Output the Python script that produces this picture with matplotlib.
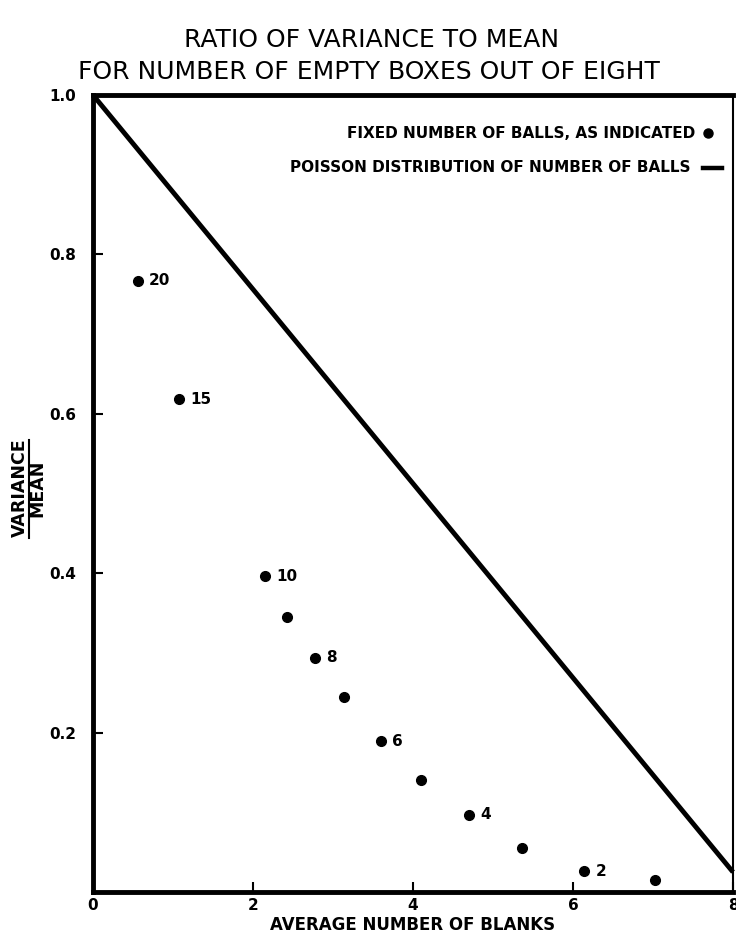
import matplotlib
matplotlib.use("Agg")
import matplotlib.pyplot as plt

# Data
avg_blanks = [0.56, 1.08, 2.15, 2.42, 2.77, 3.14, 3.60, 4.10, 4.70, 5.36, 6.14, 7.02]
ratio      = [0.767, 0.618, 0.396, 0.345, 0.294, 0.245, 0.189, 0.141, 0.097, 0.055, 0.026, 0.015]
point_labels = ["20", "15", "10", "", "8", "", "6", "", "4", "", "2", ""]

poisson_x = [0, 8]
poisson_y = [1.0, 0.025]

xticks = [0, 2, 4, 6, 8]
xticklabels = ["0", "2", "4", "6", "8"]
yticks = [0.2, 0.4, 0.6, 0.8, 1.0]
yticklabels = ["0.2", "0.4", "0.6", "0.8", "1.0"]

plt.rcParams['font.family'] = ['DejaVu Sans']

fig = plt.figure(figsize=(7.36, 9.39), dpi=100)
ax = fig.add_axes([93/736, 1-892/939, (733-93)/736, (892-95)/939])

ax.plot(poisson_x, poisson_y, color='black', lw=3.5, solid_capstyle='butt', clip_on=False)
ax.plot(avg_blanks, ratio, 'o', color='black', ms=7, ls='none')
for x, y, lab in zip(avg_blanks, ratio, point_labels):
    if lab:
        ax.annotate(lab, (x, y), xytext=(8, 0), textcoords='offset points',
                    ha='left', va='center', fontsize=11, fontweight='bold')

ax.set_xlim(0, 8)
ax.set_ylim(0, 1.0)
ax.set_xticks(xticks)
ax.set_xticklabels(xticklabels, fontsize=11, fontweight='bold')
ax.set_yticks(yticks)
ax.set_yticklabels(yticklabels, fontsize=11, fontweight='bold')
ax.tick_params(axis='both', direction='in', length=7, width=1.5)
ax.tick_params(axis='x', pad=4)
ax.tick_params(axis='y', pad=12)

for s in ['left', 'bottom', 'top']:
    ax.spines[s].set_linewidth(3.5)
ax.spines['right'].set_linewidth(1.5)

# X label
fig.text(413/736, 1-925/939, "AVERAGE NUMBER OF BLANKS", ha='center', va='center',
         fontsize=12, fontweight='bold')

# Title
fig.text(372/736, 1-40/939, "RATIO OF VARIANCE TO MEAN", ha='center', va='center',
         fontsize=18)
fig.text(369/736, 1-72/939, "FOR NUMBER OF EMPTY BOXES OUT OF EIGHT", ha='center', va='center',
         fontsize=18)

# Y label as fraction
fig.text(20/736, 1-488/939, "VARIANCE", rotation=90, ha='center', va='center',
         fontsize=12.5, fontweight='bold')
fig.text(37/736, 1-488/939, "MEAN", rotation=90, ha='center', va='center',
         fontsize=12.5, fontweight='bold')
fig.add_artist(plt.Line2D([28.5/736, 28.5/736], [1-538/939, 1-440/939], color='black', lw=1.5))

# Legend-like texts
fig.text(695/736, 1-133/939, "FIXED NUMBER OF BALLS, AS INDICATED", ha='right', va='center',
         fontsize=11, fontweight='bold')
fig.add_artist(plt.Line2D([708/736], [1-133/939], marker='o', color='black', ms=6.5, ls='none'))
fig.text(690/736, 1-168/939, "POISSON DISTRIBUTION OF NUMBER OF BALLS", ha='right', va='center',
         fontsize=11, fontweight='bold')
fig.add_artist(plt.Line2D([703/736, 722/736], [1-168/939, 1-168/939], color='black', lw=3.2))

fig.savefig("out.png", dpi=100)
